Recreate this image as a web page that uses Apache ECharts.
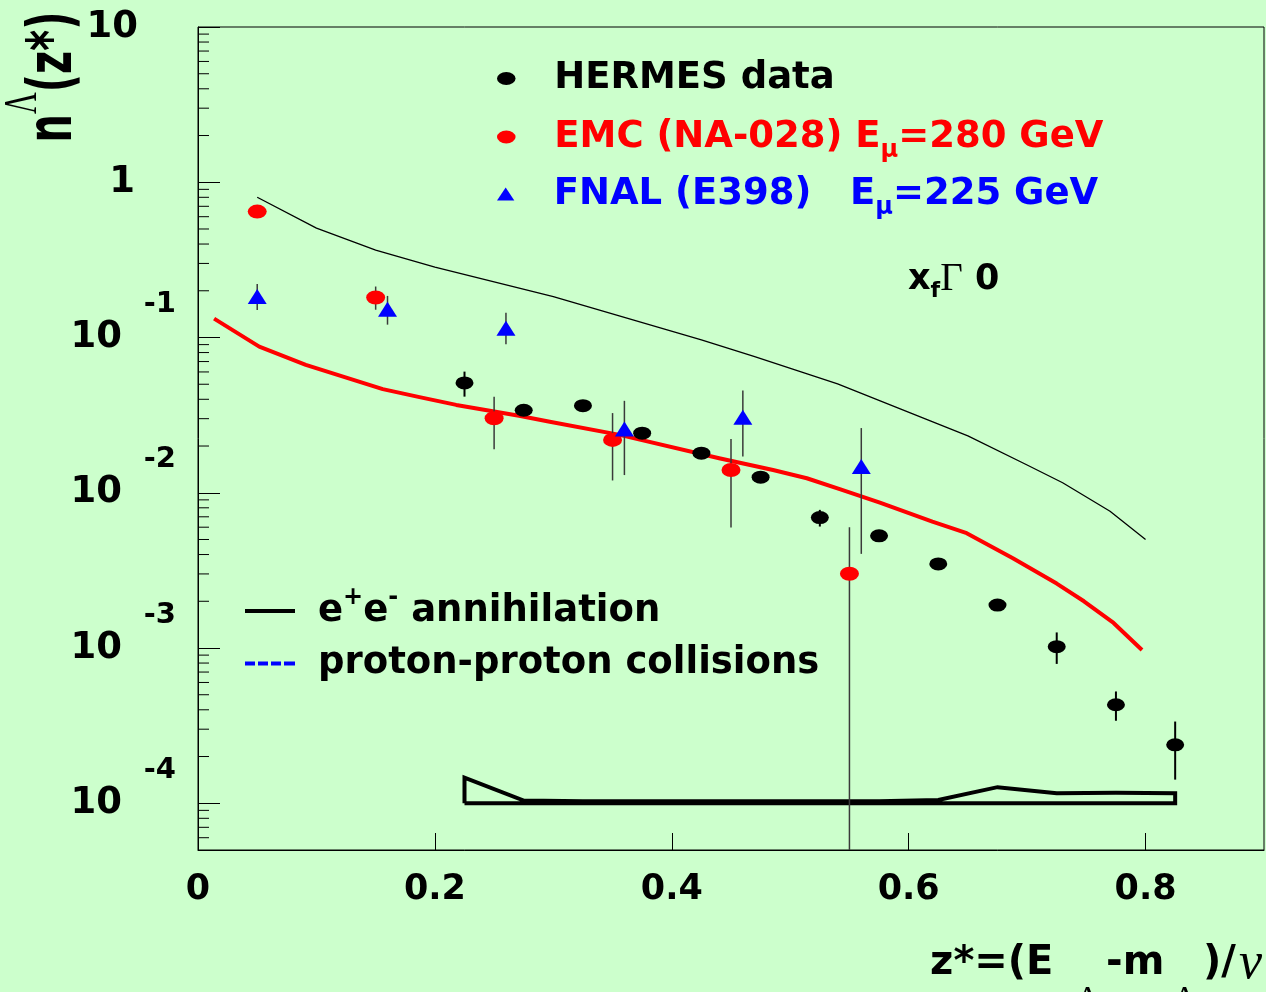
<!DOCTYPE html>
<html>
<head>
<meta charset="utf-8">
<script src="https://cdn.jsdelivr.net/npm/echarts@6/dist/echarts.min.js"></script>
<style>
html,body{margin:0;padding:0;background:#ccffcc;}
#chart{width:1266px;height:992px;}
</style>
</head>
<body>
<div id="chart"></div>
<script>
// ---------------- data ----------------
const hermesX  = [0.225, 0.275, 0.325, 0.375, 0.425, 0.475, 0.525, 0.575, 0.625, 0.675, 0.725, 0.775, 0.825];
const hermesY  = [0.0510, 0.0340, 0.0364, 0.0242, 0.0180, 0.0126, 0.00692, 0.00528, 0.00348, 0.00189, 0.00102, 0.000431, 0.000238];
const hermesLo = [0.0416, 0.0328, 0.0351, 0.0233, 0.0173, 0.0121, 0.00606, 0.00508, 0.00335, 0.00182, 0.00079, 0.000340, 0.000142];
const hermesHi = [0.0603, 0.0352, 0.0377, 0.0251, 0.0187, 0.0131, 0.00776, 0.00548, 0.00361, 0.00196, 0.00126, 0.000525, 0.000336];

const emcX  = [0.05, 0.15, 0.25, 0.35, 0.45, 0.55];
const emcY  = [0.647, 0.181, 0.0302, 0.0219, 0.0140, 0.00301];
const emcLo = [0.625, 0.151, 0.0191, 0.0120, 0.00597, 0.000001];
const emcHi = [0.670, 0.213, 0.0416, 0.0326, 0.0222, 0.0060];

const fnalX  = [0.05, 0.16, 0.26, 0.36, 0.46, 0.56];
const fnalY  = [0.1834, 0.152, 0.1148, 0.0257, 0.0307, 0.01475];
const fnalLo = [0.1506, 0.121, 0.0905, 0.0130, 0.0171, 0.00404];
const fnalHi = [0.2214, 0.1853, 0.1446, 0.0391, 0.0455, 0.0261];

const eeX = [0.05, 0.10, 0.15, 0.20, 0.30, 0.425, 0.47, 0.54, 0.65, 0.70, 0.73, 0.77, 0.80];
const eeY = [0.80, 0.506, 0.366, 0.284, 0.1835, 0.0965, 0.0753, 0.0503, 0.02325, 0.0151, 0.0116, 0.0076, 0.0050];

const redX = [0.0136, 0.0517, 0.091, 0.156, 0.187, 0.218, 0.271, 0.297, 0.356, 0.44, 0.4855, 0.514, 0.5418, 0.5757, 0.62, 0.649, 0.688, 0.725, 0.748, 0.773, 0.797];
const redY = [0.1323, 0.0874, 0.0667, 0.0465, 0.0413, 0.0368, 0.0313, 0.0287, 0.0236, 0.0167, 0.0140, 0.0124, 0.01055, 0.00865, 0.00652, 0.00549, 0.00379, 0.0026, 0.0020, 0.00145, 0.00097];

// systematic band (HERMES), upper edge at each HERMES bin, lower edge = baseline
const bandUpper = [1.46e-4, 1.04e-4, 1.03e-4, 1.03e-4, 1.03e-4, 1.03e-4, 1.03e-4, 1.03e-4, 1.05e-4, 1.27e-4, 1.16e-4, 1.17e-4, 1.16e-4];
const bandBase = 1e-4;

// axes
const X_MIN = 0, X_MAX = 0.9, X_STEP = 0.2;
const Y_MIN = 5e-5, Y_MAX = 10;
const minorMultipliers = [2, 3, 4, 5, 6, 7, 8, 9];
const decadeExponents = [-5, -4, -3, -2, -1, 0];

// ---------------- helpers ----------------
const FONT = 'DejaVu Sans';
const SERIF = 'Liberation Serif';
const ELLIPSE = 'path://M0,7A10,7,0,1,1,20,7A10,7,0,1,1,0,7Z';
const TRIANGLE = 'path://M10,0L20,15L0,15Z';
const BAR = 'path://M0,0h50v4h-50z';
const DASHES = 'path://M0,0h10v4h-10zM13,0h10v4h-10zM26,0h10v4h-10zM39,0h11v4h-11z';

const minorTickValues = [];
decadeExponents.forEach(e => minorMultipliers.forEach(m => {
  const v = m * Math.pow(10, e);
  if (v > Y_MIN * 1.0001 && v < Y_MAX) minorTickValues.push(v);
}));

const bandPolygon = [[hermesX[0], bandBase]]
  .concat(hermesX.map((x, i) => [x, bandUpper[i]]))
  .concat([[hermesX[hermesX.length - 1], bandBase], [hermesX[0], bandBase]]);

function pairs(xs, ys) { return xs.map((x, i) => [x, ys[i]]); }

function errSeries(xs, lo, hi, color, width) {
  return {
    type: 'custom', silent: true, z: 3, clip: true,
    data: xs.map((x, i) => [x, Math.max(lo[i], Y_MIN), hi[i]]),
    encode: { x: 0, y: [1, 2] },
    renderItem: function (params, api) {
      const a = api.coord([api.value(0), api.value(1)]);
      const b = api.coord([api.value(0), api.value(2)]);
      return { type: 'line', shape: { x1: a[0], y1: a[1], x2: b[0], y2: b[1] },
               style: { stroke: color, lineWidth: width } };
    }
  };
}

const chart = echarts.init(document.getElementById('chart'), null, { renderer: 'canvas' });

const boldTxt = (size, color, extra) => Object.assign({ fontFamily: FONT, fontWeight: 'bold', fontSize: size, color: color }, extra || {});

const legendRich = {
  k: boldTxt(37, '#000'),
  r: boldTxt(37, '#ff0000'),
  rs: boldTxt(24, '#ff0000', { lineHeight: 22, padding: [28, 0, 0, 0] }),
  b: boldTxt(37, '#0000ff'),
  bs: boldTxt(24, '#0000ff', { lineHeight: 22, padding: [28, 0, 0, 0] })
};
function dataLegend(name, icon, top) {
  return {
    orient: 'vertical', left: 497, top: top, padding: 0,
    itemWidth: 86, itemHeight: 13, selectedMode: false,
    data: [{ name: name, icon: icon }],
    formatter: function (n) {
      if (n === 'HERMES data') return '{k|HERMES data}';
      if (n === 'EMC') return '{r|EMC (NA-028) E}{rs|μ}{r|=280 GeV}';
      return '{b|FNAL (E398)   E}{bs|μ}{b|=225 GeV}';
    },
    textStyle: { fontFamily: FONT, fontWeight: 'bold', fontSize: 37, rich: legendRich }
  };
}

const option = {
  animation: false,
  backgroundColor: '#ccffcc',
  grid: { left: 198, right: 2, top: 27, bottom: 142, containLabel: false, show: true, borderColor: '#000', borderWidth: 1, backgroundColor: 'transparent' },
  xAxis: {
    type: 'value', min: X_MIN, max: X_MAX, interval: X_STEP,
    axisLine: { show: true, lineStyle: { color: '#000', width: 1 } },
    axisTick: { show: true, inside: true, length: 17, lineStyle: { color: '#000', width: 1 } },
    axisLabel: { showMaxLabel: false, margin: 22, fontFamily: FONT, fontWeight: 'bold', fontSize: 35, color: '#000' },
    splitLine: { show: false }
  },
  yAxis: {
    type: 'log', logBase: 10, min: Y_MIN, max: Y_MAX, splitNumber: 6,
    axisLine: { show: true, lineStyle: { color: '#000', width: 1 } },
    axisTick: { show: true, inside: true, length: 22, lineStyle: { color: '#000', width: 1 } },
    minorTick: { show: false },
    splitLine: { show: false },
    axisLabel: {
      showMinLabel: false, margin: 22, color: '#000',
      formatter: function (v) {
        const e = Math.round(Math.log10(v));
        if (e === 1) return '{top|10}';
        if (e === 0) return '{one|1}';
        return '{e|' + e + '}\n{b|10}\n{s| }';
      },
      rich: {
        top: boldTxt(37, '#000', { padding: [0, 38, 0, 0] }),
        one: boldTxt(37, '#000', { padding: [0, 41, 0, 0] }),
        e: boldTxt(29, '#000', { lineHeight: 33 }),
        b: boldTxt(37, '#000', { lineHeight: 33, padding: [0, 54, 0, 0] }),
        s: boldTxt(10, '#000', { lineHeight: 33 })
      }
    }
  },
  legend: [
    dataLegend('HERMES data', ELLIPSE, 60),
    dataLegend('EMC', ELLIPSE, 111),
    dataLegend('FNAL', TRIANGLE, 168),
    {
      orient: 'vertical', left: 245, top: 586, padding: 0, itemGap: 9,
      itemWidth: 50, itemHeight: 4, selectedMode: false,
      data: [
        { name: 'e+e- annihilation', icon: BAR },
        { name: 'proton-proton collisions', icon: DASHES }
      ],
      formatter: function (name) {
        if (name === 'e+e- annihilation') return '{sp| }{t|e}{sup|+}{t|e}{sup|-}{t| annihilation}';
        return '{sp| }{t|proton-proton collisions}';
      },
      textStyle: {
        fontFamily: FONT, fontWeight: 'bold', fontSize: 37,
        rich: {
          sp: { width: 18, fontSize: 10 },
          t: boldTxt(37, '#000'),
          sup: boldTxt(24, '#000', { lineHeight: 24, padding: [0, 0, 26, 0] })
        }
      }
    }
  ],
  graphic: [
    { // y-axis title
      type: 'text', x: 55, y: 77, rotation: Math.PI / 2, scaleY: 1.55, silent: true,
      style: {
        text: '{n|n}{s|Λ}{n|(z*)}', align: 'center', verticalAlign: 'middle',
        rich: {
          n: { fontFamily: FONT, fontWeight: 'bold', fontSize: 40, lineHeight: 40, fill: '#000' },
          s: { fontFamily: SERIF, fontSize: 30, lineHeight: 28, padding: [0, 0, 40, 0], fill: '#000' }
        }
      }
    },
    { // x-axis title
      type: 'text', x: 1262, y: 964, silent: true,
      style: {
        text: '{t|z*=(E}{sa|Λ}{t|-m}{sb|Λ}{t|)/}{nu|ν}', align: 'right', verticalAlign: 'middle',
        rich: {
          t: { fontFamily: FONT, fontWeight: 'bold', fontSize: 40, lineHeight: 100, fill: '#000' },
          sa: { fontFamily: SERIF, fontSize: 34, lineHeight: 28, padding: [72, 6, 0, 22], fill: '#000' },
          sb: { fontFamily: SERIF, fontSize: 34, lineHeight: 28, padding: [72, 6, 0, 8], fill: '#000' },
          nu: { fontFamily: SERIF, fontStyle: 'italic', fontSize: 52, lineHeight: 100, padding: [0, 0, 0, 3], fill: '#000' }
        }
      }
    },
    { // x_f label
      type: 'text', x: 908, y: 280, silent: true,
      style: {
        text: '{t|x}{f|f}{g|Γ}{t| 0}', align: 'left', verticalAlign: 'middle',
        rich: {
          t: { fontFamily: FONT, fontWeight: 'bold', fontSize: 35, lineHeight: 44, fill: '#000' },
          f: { fontFamily: FONT, fontWeight: 'bold', fontSize: 22, lineHeight: 22, padding: [22, 0, 0, 0], fill: '#000' },
          g: { fontFamily: SERIF, fontSize: 39, lineHeight: 44, fill: '#000' }
        }
      }
    }
  ],
  series: [
    { // minor ticks on log axis
      type: 'custom', silent: true, z: 5,
      data: minorTickValues.map(v => [X_MIN, v]),
      encode: { x: 0, y: 1 },
      renderItem: function (params, api) {
        const p = api.coord([api.value(0), api.value(1)]);
        return { type: 'line', shape: { x1: p[0], y1: p[1], x2: p[0] + 11, y2: p[1] },
                 style: { stroke: '#000', lineWidth: 1 } };
      }
    },
    {
      name: 'e+e- annihilation', type: 'line', data: pairs(eeX, eeY), symbol: 'none', silent: true, z: 2,
      lineStyle: { color: '#000', width: 1.3 }, itemStyle: { color: '#000' }
    },
    {
      name: 'proton-proton collisions', type: 'line', data: [], symbol: 'none', silent: true,
      lineStyle: { color: '#0000ff', width: 4, type: [8, 4] }, itemStyle: { color: '#0000ff' }
    },
    {
      name: 'model', type: 'line', data: pairs(redX, redY), symbol: 'none', silent: true, z: 2,
      lineStyle: { color: '#ff0000', width: 4, join: 'round' }
    },
    {
      name: 'systematics', type: 'line', data: bandPolygon, symbol: 'none', silent: true, z: 2,
      lineStyle: { color: '#000', width: 4, join: 'miter' }
    },
    errSeries(hermesX, hermesLo, hermesHi, '#000', 2),
    errSeries(emcX, emcLo, emcHi, '#3a3a3a', 1.5),
    errSeries(fnalX, fnalLo, fnalHi, '#3a3a3a', 1.5),
    {
      name: 'HERMES data', type: 'scatter', data: pairs(hermesX, hermesY), symbol: ELLIPSE, symbolSize: [18, 13],
      itemStyle: { color: '#000', opacity: 1 }, silent: true, z: 4
    },
    {
      name: 'EMC', type: 'scatter', data: pairs(emcX, emcY), symbol: ELLIPSE, symbolSize: [19, 14],
      itemStyle: { color: '#ff0000', opacity: 1 }, silent: true, z: 4
    },
    {
      name: 'FNAL', type: 'scatter', data: pairs(fnalX, fnalY), symbol: 'triangle', symbolSize: [19, 15],
      itemStyle: { color: '#0000ff', opacity: 1 }, silent: true, z: 4
    }
  ]
};
chart.setOption(option);
</script>
</body>
</html>
